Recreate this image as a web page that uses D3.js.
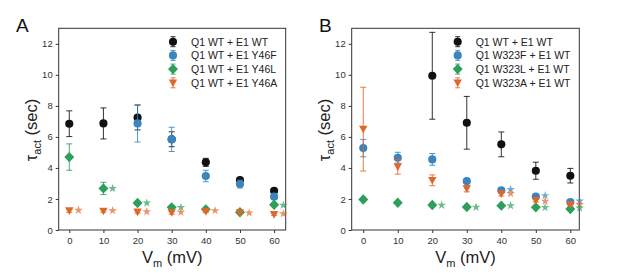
<!DOCTYPE html>
<html>
<head>
<meta charset="utf-8">
<script src="https://cdn.jsdelivr.net/npm/d3@7"></script>
<style>
  body { margin: 0; background: #fff; }
  svg { display: block; font-family: "Liberation Sans", Arial, sans-serif; }
</style>
</head>
<body>
<div id="chart"></div>
<script>
const width = 617;
const height = 275;

// membrane voltages (mV)
const vm = [0, 10, 20, 30, 40, 50, 60];
const yTicks = [0, 2, 4, 6, 8, 10, 12];

// Panel A: Q1 WT + E1 variants
const aLabels = ["Q1 WT + E1 WT", "Q1 WT + E1 Y46F", "Q1 WT + E1 Y46L", "Q1 WT + E1 Y46A"];
const aWT = [6.85, 6.87, 7.25, 5.85, 4.36, 3.22, 2.53];
const aWTErr = [0.83, 1.0, 0.8, 0.48, 0.26, 0.12, 0.1];
const aY46F = [null, null, 6.87, 5.84, 3.48, 2.96, 2.15];
const aY46FErr = [null, null, 1.2, 0.78, 0.37, 0.25, 0.15];
const aY46L = [4.7, 2.68, 1.74, 1.46, 1.33, 1.14, 1.63];
const aY46LErr = [0.85, 0.4, 0.1, 0.08, 0.08, 0.06, 0.1];
const aY46A = [1.24, 1.22, 1.16, 1.12, 1.2, 1.12, 1.0];
const aY46AErr = [0.1, 0.08, 0.08, 0.1, 0.08, 0.08, 0.06];
const aStarsL = [null, 2.68, 1.74, 1.46, null, null, 1.6];
const aStarsA = [1.28, 1.25, 1.18, 1.15, 1.25, 1.1, 1.05];

// Panel B: Q1 W323 variants + E1 WT
const bLabels = ["Q1 WT + E1 WT", "Q1 W323F + E1 WT", "Q1 W323L + E1 WT", "Q1 W323A + E1 WT"];
const bWT = [null, null, 9.94, 6.91, 5.52, 3.82, 3.5];
const bWTErr = [null, null, 2.8, 1.7, 0.8, 0.55, 0.47];
const bW323F = [5.28, 4.66, 4.55, 3.15, 2.55, 2.15, 1.8];
const bW323FErr = [0.56, 0.35, 0.38, 0.12, 0.1, 0.1, 0.08];
const bW323L = [1.97, 1.76, 1.61, 1.48, 1.57, 1.46, 1.35];
const bW323LErr = [0.05, 0.05, 0.05, 0.05, 0.05, 0.05, 0.05];
const bW323A = [6.5, 4.08, 3.2, 2.66, 2.34, 1.9, 1.63];
const bW323AErr = [2.7, 0.48, 0.35, 0.2, 0.15, 0.1, 0.08];
const bStarsF = [null, null, null, null, 2.62, 2.22, 1.88];
const bStarsL = [null, null, 1.6, 1.47, 1.57, 1.45, 1.42];
const bStarsA = [null, null, null, null, 2.35, 1.85, 1.65];

const colors = ["#111111", "#3a85bf", "#2e9e5b", "#e0672a"];
const shapes = ["circle", "circle", "diamond", "tri"];

const svg = d3.select("#chart").append("svg")
    .attr("width", width)
    .attr("height", height);

function markerPath(i) {
    const s = shapes[i];
    if (s === "tri") return "M-4.2,-3.4L4.2,-3.4L0,4.2Z";
    if (s === "diamond") return "M0,-5.2L5,0L0,5.2L-5,0Z";
    return d3.symbol().type(d3.symbolCircle).size(52)();
}

function drawPanel(cfg) {
    const x = d3.scaleLinear().domain(cfg.xDomain).range([cfg.left, cfg.right]);
    const y = d3.scaleLinear().domain([0, 13]).range([230, 28.3]);
    const g = svg.append("g");

    // axes
    g.append("g")
        .attr("transform", "translate(0,230)")
        .call(d3.axisBottom(x).tickValues(vm).tickSize(3).tickPadding(4))
        .call(a => a.select(".domain").remove())
        .call(a => a.selectAll("text").attr("font-size", 9.5).attr("fill", "#333"))
        .call(a => a.selectAll("line").attr("stroke", "#333"));
    g.append("g")
        .attr("transform", `translate(${cfg.left},0)`)
        .call(d3.axisLeft(y).tickValues(yTicks).tickSize(3).tickPadding(3))
        .call(a => a.select(".domain").remove())
        .call(a => a.selectAll("text").attr("font-size", 9.5).attr("fill", "#333"))
        .call(a => a.selectAll("line").attr("stroke", "#333"));

    g.append("rect")
        .attr("x", cfg.left).attr("y", 28.3)
        .attr("width", cfg.right - cfg.left).attr("height", 230 - 28.3)
        .attr("fill", "none").attr("stroke", "#333").attr("stroke-width", 1);

    // axis titles
    const yl = g.append("text")
        .attr("transform", `translate(${cfg.left - 22},130) rotate(-90)`)
        .attr("text-anchor", "middle")
        .attr("font-size", 16.5)
        .attr("fill", "#222");
    yl.append("tspan").text("\u03c4");
    yl.append("tspan").attr("font-size", 11).attr("dy", 4).text("act");
    yl.append("tspan").attr("dy", -4).text(" (sec)");

    const xl = g.append("text")
        .attr("x", (cfg.left + cfg.right) / 2)
        .attr("y", 263)
        .attr("text-anchor", "middle")
        .attr("font-size", 16.5)
        .attr("fill", "#222");
    xl.append("tspan").text("V");
    xl.append("tspan").attr("font-size", 11).attr("dy", 4).text("m");
    xl.append("tspan").attr("dy", -4).text(" (mV)");

    g.append("text")
        .attr("x", cfg.letterX).attr("y", 32)
        .attr("font-size", 19)
        .attr("fill", "#111")
        .text(cfg.letter);

    // series
    cfg.series.forEach((s, i) => {
        const pts = vm.map((v, j) => ({ v, val: s.vals[j], err: s.errs[j] }))
            .filter(d => d.val !== null);
        const sg = g.append("g");
        sg.selectAll(".eb").data(pts).join("line")
            .attr("x1", d => x(d.v)).attr("x2", d => x(d.v))
            .attr("y1", d => y(d.val - d.err)).attr("y2", d => y(d.val + d.err))
            .attr("stroke", colors[i]).attr("stroke-width", 1).attr("opacity", 0.85);
        [1, -1].forEach(sign => {
            sg.selectAll(null).data(pts).join("line")
                .attr("x1", d => x(d.v) - 3).attr("x2", d => x(d.v) + 3)
                .attr("y1", d => y(d.val + sign * d.err)).attr("y2", d => y(d.val + sign * d.err))
                .attr("stroke", colors[i]).attr("stroke-width", 1).attr("opacity", 0.85);
        });
        sg.selectAll("path").data(pts).join("path")
            .attr("transform", d => `translate(${x(d.v)},${y(d.val)})`)
            .attr("d", markerPath(i))
            .attr("fill", colors[i]);
    });

    // significance stars
    cfg.stars.forEach(st => {
        const pts = vm.map((v, j) => ({ v, val: st.vals[j] })).filter(d => d.val !== null);
        g.append("g").selectAll("path").data(pts).join("path")
            .attr("transform", d => `translate(${x(d.v + 2.7)},${y(d.val)})`)
            .attr("d", d3.symbol().type(d3.symbolStar).size(24)())
            .attr("fill", colors[st.idx])
            .attr("opacity", 0.7);
    });

    // legend
    const lg = g.append("g");
    cfg.labels.forEach((lab, i) => {
        const ly = 41.7 + i * 13.7;
        const row = lg.append("g").attr("transform", `translate(${cfg.legendX},${ly})`);
        row.append("line").attr("x1", 0).attr("x2", 0).attr("y1", -5).attr("y2", 5)
            .attr("stroke", colors[i]).attr("opacity", 0.85);
        [-5, 5].forEach(dy => row.append("line")
            .attr("x1", -2.5).attr("x2", 2.5).attr("y1", dy).attr("y2", dy)
            .attr("stroke", colors[i]).attr("opacity", 0.85));
        row.append("path").attr("d", markerPath(i)).attr("fill", colors[i]);
        row.append("text")
            .attr("x", 18).attr("y", 3.8)
            .attr("font-size", 10.5)
            .attr("fill", "#222")
            .text(lab);
    });
}

drawPanel({
    letter: "A", letterX: 16,
    left: 58.7, right: 285.7, xDomain: [-3.1, 63.4],
    legendX: 173,
    labels: aLabels,
    series: [
        { vals: aWT, errs: aWTErr },
        { vals: aY46F, errs: aY46FErr },
        { vals: aY46L, errs: aY46LErr },
        { vals: aY46A, errs: aY46AErr }
    ],
    stars: [{ idx: 2, vals: aStarsL }, { idx: 3, vals: aStarsA }]
});

drawPanel({
    letter: "B", letterX: 319,
    left: 351.7, right: 579.3, xDomain: [-3.35, 62.6],
    legendX: 457.7,
    labels: bLabels,
    series: [
        { vals: bWT, errs: bWTErr },
        { vals: bW323F, errs: bW323FErr },
        { vals: bW323L, errs: bW323LErr },
        { vals: bW323A, errs: bW323AErr }
    ],
    stars: [{ idx: 1, vals: bStarsF }, { idx: 3, vals: bStarsA }, { idx: 2, vals: bStarsL }]
});
</script>
</body>
</html>
